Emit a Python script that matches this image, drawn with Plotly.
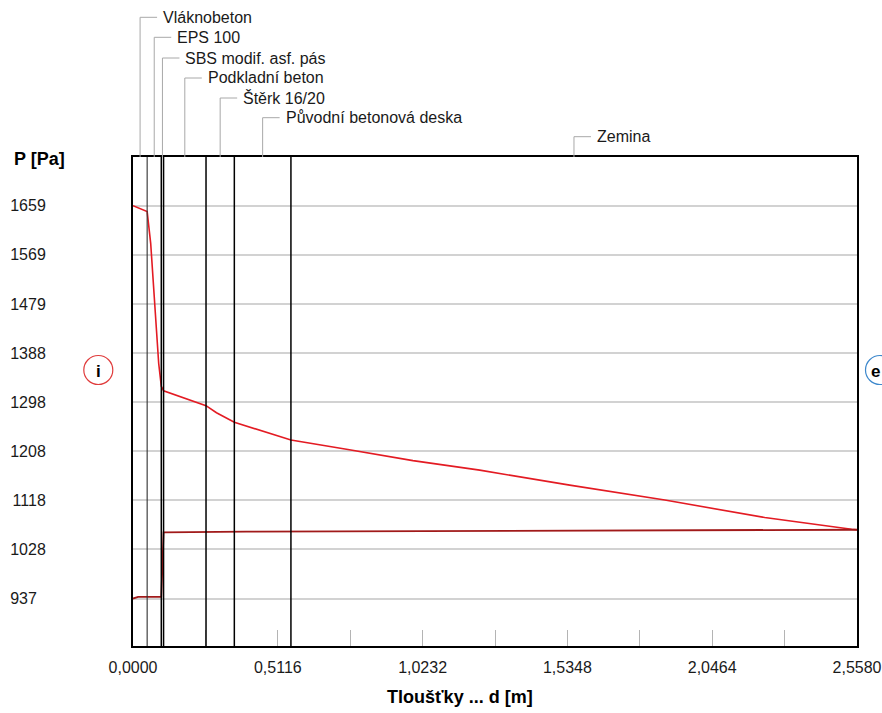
import plotly.graph_objects as go

# ---- data ----
layer_names = ["Vláknobeton", "EPS 100", "SBS modif. asf. pás", "Podkladní beton",
               "Štěrk 16/20", "Původní betonová deska", "Zemina"]
layer_thickness = [0.05, 0.05, 0.008, 0.15, 0.10, 0.20, 2.00]

x_red = [0, 0.05, 0.0625, 0.079, 0.0908, 0.1, 0.108, 0.258, 0.295, 0.358,
         0.558, 0.754, 0.989, 1.225, 1.543, 1.879, 2.232, 2.539, 2.558]
p_red = [1659, 1648.5, 1590, 1461, 1369, 1327, 1319, 1291.5, 1278.5, 1261,
         1228.5, 1211.5, 1190.5, 1173, 1145.5, 1118, 1086, 1064.5, 1063.5]

x_dark = [0, 0.018, 0.1, 0.108, 0.4, 1.955, 2.558]
p_dark = [937, 940, 940, 1058.5, 1060, 1062.5, 1063.5]

y_tick_vals = [937, 1027.25, 1117.5, 1207.75, 1298, 1388.25, 1478.5, 1568.75, 1659]
y_tick_labels = ["937\u2007", "1028", "1118", "1208", "1298", "1388", "1479", "1569", "1659"]
x_tick_vals = [0, 0.5116, 1.0232, 1.5348, 2.0464, 2.558]
x_tick_labels = ["0,0000", "0,5116", "1,0232", "1,5348", "2,0464", "2,5580"]
x_minor_vals = [0.2558, 0.7674, 1.279, 1.7906, 2.3022]

# ---- geometry helpers ----
W, H = 882, 713
ML, MR, MT, MB = 133, 25, 157, 67
PH = H - MT - MB
FONT = "Liberation Sans, Arial, sans-serif"

def py(ypx):
    return (H - MB - ypx) / PH

def px(xpx):
    return (xpx - ML) / (W - ML - MR)

bounds = [0]
for t in layer_thickness:
    bounds.append(round(bounds[-1] + t, 4))
mids = [(bounds[i] + bounds[i + 1]) / 2 for i in range(len(layer_thickness))]

fig = go.Figure()
fig.add_trace(go.Scatter(x=x_red, y=p_red, mode="lines",
                         line=dict(color="#e31b23", width=1.6), hoverinfo="skip"))
fig.add_trace(go.Scatter(x=x_dark, y=p_dark, mode="lines",
                         line=dict(color="#a11a1a", width=1.8), hoverinfo="skip"))

shapes = []
# layer boundaries
for i, b in enumerate(bounds[1:-1]):
    shapes.append(dict(type="line", xref="x", yref="paper", x0=b, x1=b, y0=0, y1=1,
                       line=dict(color="#303030" if i == 0 else "black",
                                 width=1.1 if i == 0 else 1.5), layer="above"))

# leaders and labels
label_y = [17.3, 37.3, 58, 78, 98, 117.7, 136.7]
annotations = []
for name, m, ly in zip(layer_names, mids, label_y):
    shapes.append(dict(type="line", xref="x", yref="paper", x0=m, x1=m, y0=1, y1=py(ly),
                       line=dict(color="#a8a8a8", width=1)))
    shapes.append(dict(type="line", xref="x", yref="paper", xsizemode="pixel", xanchor=m,
                       x0=0, x1=17, y0=py(ly), y1=py(ly),
                       line=dict(color="#a8a8a8", width=1)))
    annotations.append(dict(text=name, xref="x", yref="paper", x=m, y=py(ly), xshift=21,
                            xanchor="left", yanchor="middle", showarrow=False,
                            font=dict(family=FONT, size=16, color="#1a1a1a")))

# i / e circles
for cx, tx, col, ch in [(98.3, 98.3, "#e03c3c", "i"), (880, 875.5, "#3d88cc", "e")]:
    shapes.append(dict(type="circle", xref="paper", yref="paper", xsizemode="pixel",
                       ysizemode="pixel", xanchor=px(cx), yanchor=py(370),
                       x0=-14.5, x1=14.5, y0=-14.5, y1=14.5,
                       line=dict(color=col, width=1.2)))
    annotations.append(dict(text="<b>%s</b>" % ch, xref="paper", yref="paper", x=px(tx),
                            y=py(371), xanchor="center", yanchor="middle", showarrow=False,
                            font=dict(family=FONT, size=17, color="black")))

annotations.append(dict(text="<b>P [Pa]</b>", xref="paper", yref="paper", x=px(12), y=py(159),
                        xanchor="left", yanchor="middle", showarrow=False,
                        font=dict(family=FONT, size=18, color="black")))
annotations.append(dict(text="<b>Tloušťky ... d [m]</b>", xref="paper", yref="paper",
                        x=px(460), y=py(697), xanchor="center", yanchor="middle",
                        showarrow=False, font=dict(family=FONT, size=18, color="black")))

fig.update_layout(
    width=W, height=H, autosize=False,
    margin=dict(l=ML, r=MR, t=MT, b=MB, pad=0),
    paper_bgcolor="white", plot_bgcolor="white",
    showlegend=False,
    shapes=shapes, annotations=annotations,
    font=dict(family=FONT, size=16, color="#1a1a1a"),
    xaxis=dict(range=[0, 2.558], tickmode="array", tickvals=x_tick_vals, ticktext=x_tick_labels,
               ticks="inside", ticklen=16, tickcolor="#b4b4b4", tickwidth=1,
               minor=dict(tickmode="array", tickvals=x_minor_vals, ticks="inside", ticklen=16,
                          tickcolor="#b4b4b4", tickwidth=1, showgrid=False),
               showgrid=False, zeroline=False, showline=True, linecolor="black", linewidth=2,
               mirror=True, tickfont=dict(family=FONT, size=16, color="#1a1a1a"),
               ticklabelstandoff=6, automargin=False),
    yaxis=dict(range=[849.8, 1748.6], tickmode="array", tickvals=y_tick_vals,
               ticktext=y_tick_labels, ticks="", showgrid=True, gridcolor="#d2d2d2",
               gridwidth=1.5, zeroline=False, showline=True, linecolor="black", linewidth=2,
               mirror=True, tickfont=dict(family=FONT, size=16, color="#1a1a1a"),
               ticklabelstandoff=82, automargin=False),
)

fig.write_html("out.html")
